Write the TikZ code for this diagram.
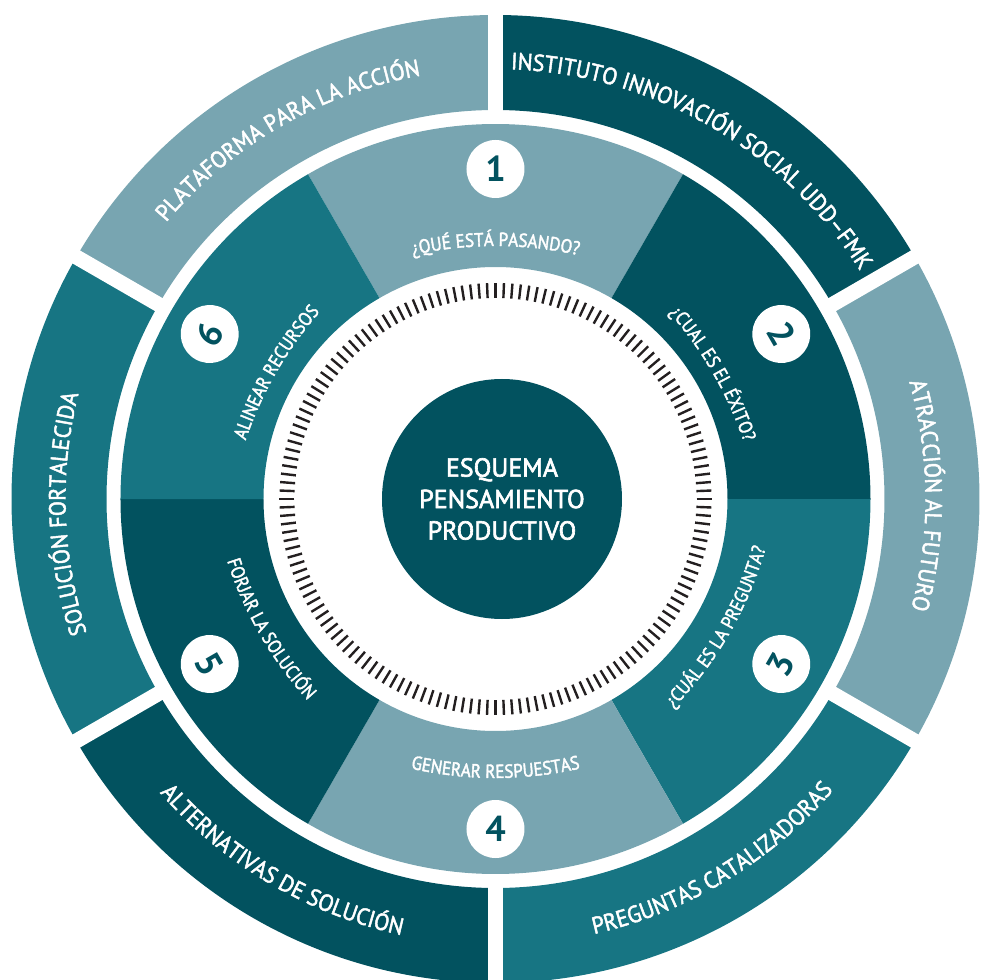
\documentclass[tikz,border=0pt]{standalone}
\usepackage{fontspec}
\setmainfont{PT Sans}
\newfontfamily\midfont{PT Sans}[FakeBold=2, FakeStretch=0.9]
\newfontfamily\outfont{PT Sans}[FakeBold=2, FakeStretch=0.94]
\newfontfamily\corefont{PT Sans}[FakeBold=2.4]
\usetikzlibrary{decorations.text}
\definecolor{lt}{RGB}{120,165,177}
\definecolor{dk}{RGB}{2,82,95}
\definecolor{md}{RGB}{23,117,131}
\definecolor{tk}{RGB}{35,31,32}
\begin{document}
\begin{tikzpicture}[x=1pt,y=1pt,
  numc/.style={circle, fill=white, minimum size=58pt, inner sep=0pt, text=dk, font=\fontsize{36}{36}\selectfont\bfseries},
  gapline/.style={white, line width=15pt},
  tickline/.style={tk, line width=2.4pt},
  midtext/.style={decorate, decoration={text along path, text align=center, text={|\color{white}\midfont\fontsize{19}{19}\selectfont|#1}}},
  outtext/.style={decorate, decoration={text along path, text align=center, text={|\color{white}\outfont\fontsize{23.5}{23.5}\selectfont|#1}}}
]
\useasboundingbox (-495.5pt,-481pt) rectangle (484.5pt,499pt);
\clip (-495.5pt,-481pt) rectangle (484.5pt,499pt);

% outer ring
\foreach \a/\b/\c in {90/150/lt, 30/90/dk, -30/30/lt, -90/-30/md, 210/270/dk, 150/210/md} {
  \fill[\c] (\a:484pt) arc[start angle=\a, end angle=\b, radius=484pt] -- (\b:389pt) arc[start angle=\b, end angle=\a, radius=389pt] -- cycle;
}
\foreach \a in {90,30,-30,-90,150,210} \draw[gapline] (\a:380pt) -- (\a:500pt);

% middle ring
\foreach \a/\b/\c in {60/120/lt, 0/60/dk, -60/0/md, 240/300/lt, 180/240/dk, 120/180/md} {
  \fill[\c] (\a:375pt) arc[start angle=\a, end angle=\b, radius=375pt] -- (\b:232pt) arc[start angle=\b, end angle=\a, radius=232pt] -- cycle;
}

% ticks
\foreach \i in {0,...,159} \draw[tickline] (\i*2.25:201pt) -- (\i*2.25:216pt);

% centre
\node[circle, fill=dk, minimum size=240pt, inner sep=0pt] (core) at (6.5pt,0pt) {};
\node[text=white, align=center, font=\corefont\fontsize{26}{31.5}\selectfont] (coretext) at (core.center) {ESQUEMA\\PENSAMIENTO\\PRODUCTIVO};

% numbers
\node[numc] (n1) at (90:330pt) {1};
\node[numc, rotate=-60] (n2) at (30:330pt) {2};
\node[numc, rotate=60] (n3) at (-30:330pt) {3};
\node[numc] (n4) at (270:330pt) {4};
\node[numc, rotate=-60] (n5) at (210:330pt) {5};
\node[numc, rotate=60] (n6) at (150:330pt) {6};

% middle labels
\path[midtext={¿QUÉ ESTÁ PASANDO?}, shift={(270:127pt)}] (115:380pt) arc[start angle=115, end angle=65, radius=380pt];
\path[midtext={¿CUAL ES EL ÉXITO?}, shift={(210:129pt)}] (55:380pt) arc[start angle=55, end angle=5, radius=380pt];
\path[midtext={ALINEAR RECURSOS}, shift={(330:127pt)}] (175:380pt) arc[start angle=175, end angle=125, radius=380pt];
\path[midtext={¿CUÁL ES LA PREGUNTA?}, shift={(150:110pt)}] (-55:380pt) arc[start angle=-55, end angle=-5, radius=380pt];
\path[midtext={GENERAR RESPUESTAS}, shift={(90:101pt)}] (245:380pt) arc[start angle=245, end angle=295, radius=380pt];
\path[midtext={FORJAR LA SOLUCIÓN}, shift={(30:108pt)}] (185:380pt) arc[start angle=185, end angle=235, radius=380pt];

% outer labels
\path[outtext={PLATAFORMA PARA LA ACCIÓN}] (160:430pt) arc[start angle=160, end angle=80, radius=430pt];
\path[outtext={INSTITUTO INNOVACIÓN SOCIAL UDD–FMK}] (100:430pt) arc[start angle=100, end angle=20, radius=430pt];
\path[outtext={ATRACCIÓN AL FUTURO}] (40.5:430pt) arc[start angle=40.5, end angle=-39.5, radius=430pt];
\path[outtext={SOLUCIÓN FORTALECIDA}] (222:430pt) arc[start angle=222, end angle=142, radius=430pt];
\path[outtext={PREGUNTAS CATALIZADORAS}] (-99:446pt) arc[start angle=-99, end angle=-19, radius=446pt];
\path[outtext={ALTERNATIVAS DE SOLUCIÓN}] (199.5:446pt) arc[start angle=199.5, end angle=279.5, radius=446pt];
\end{tikzpicture}
\end{document}
